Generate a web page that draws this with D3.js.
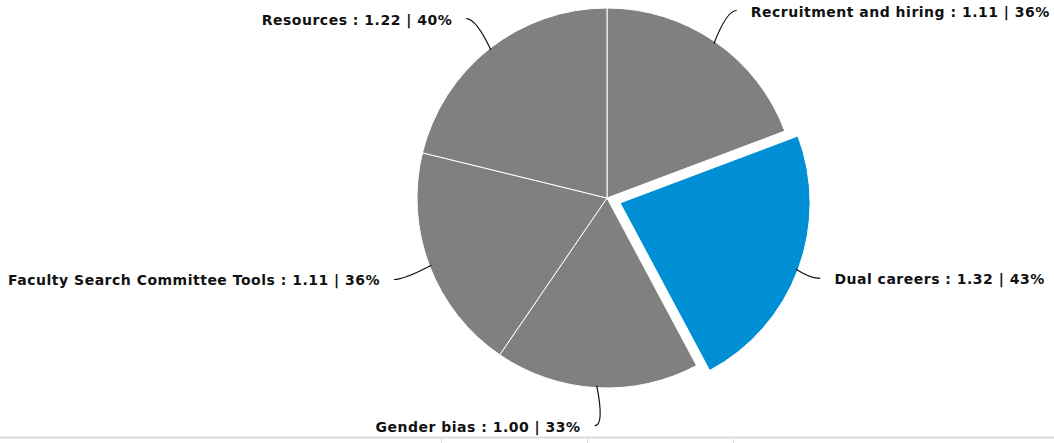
<!DOCTYPE html>
<html>
<head>
<meta charset="utf-8">
<script src="https://cdn.jsdelivr.net/npm/d3@7"></script>
<style>
  html, body { margin: 0; padding: 0; background: #fff; }
  svg { display: block; }
  text { font-family: "DejaVu Sans", Verdana, sans-serif; font-weight: bold; font-size: 14px; letter-spacing: 0.5px; fill: #111; }
</style>
</head>
<body>
<svg id="chart" width="1054" height="443"></svg>
<script>
// Mean scores per topic, with share shown in the label
const categories = ["Recruitment and hiring", "Dual careers", "Gender bias", "Faculty Search Committee Tools", "Resources"];
const values = [1.11, 1.32, 1.00, 1.11, 1.22];
const valueLabels = ["1.11", "1.32", "1.00", "1.11", "1.22"];
const percentLabels = ["36%", "43%", "33%", "36%", "40%"];
const highlighted = ["Dual careers"];

const width = 1054, height = 443;
const cx = 607, cy = 198, radius = 190, explode = 14;

const svg = d3.select("#chart");

// Footer rule and column separators along the bottom edge
svg.append("line").attr("x1", 0).attr("x2", width).attr("y1", 437.5).attr("y2", 437.5)
  .attr("stroke", "#dcdcdc").attr("stroke-width", 2);
[441, 587, 733].forEach(x => {
  svg.append("line").attr("x1", x + 0.5).attr("x2", x + 0.5).attr("y1", 438).attr("y2", height)
    .attr("stroke", "#dcdcdc").attr("stroke-width", 1);
});

const data = categories.map((c, i) => ({ name: c, value: values[i], vLabel: valueLabels[i], pLabel: percentLabels[i] }));

const pie = d3.pie().value(d => d.value).sort(null);
const arcs = pie(data);
const arc = d3.arc().innerRadius(0).outerRadius(radius);
const color = d => highlighted.includes(d.data.name) ? "#008fd5" : "#808080";

const polar = (a, r) => [Math.sin(a) * r, -Math.cos(a) * r];

const g = svg.append("g").attr("transform", `translate(${cx},${cy})`);

arcs.forEach(a => {
  const mid = (a.startAngle + a.endAngle) / 2;
  a.mid = mid;
  a.off = highlighted.includes(a.data.name) ? polar(mid, explode) : [0, 0];
});

g.selectAll("path.slice").data(arcs).join("path")
  .attr("class", "slice")
  .attr("transform", d => `translate(${d.off[0]},${d.off[1]})`)
  .attr("d", arc)
  .attr("fill", color)
  .attr("stroke", "#fff")
  .attr("stroke-width", 1);

// Leader lines and labels
arcs.forEach(a => {
  const edge = polar(a.mid, radius - 2).map((v, i) => v + a.off[i]);
  const end = polar(a.mid, radius + 38);
  const side = end[0] >= 0 ? 1 : -1;
  const ctrl = [end[0] + (-side) * 10, end[1]];
  g.append("path")
    .attr("d", `M${edge[0]},${edge[1]} Q${ctrl[0]},${ctrl[1]} ${end[0]},${end[1]}`)
    .attr("fill", "none").attr("stroke", "#111").attr("stroke-width", 1.2);
  g.append("text")
    .attr("x", end[0] + side * 14)
    .attr("y", end[1] + 6)
    .attr("text-anchor", side > 0 ? "start" : "end")
    .text(`${a.data.name} : ${a.data.vLabel} | ${a.data.pLabel}`);
});
</script>
</body>
</html>
